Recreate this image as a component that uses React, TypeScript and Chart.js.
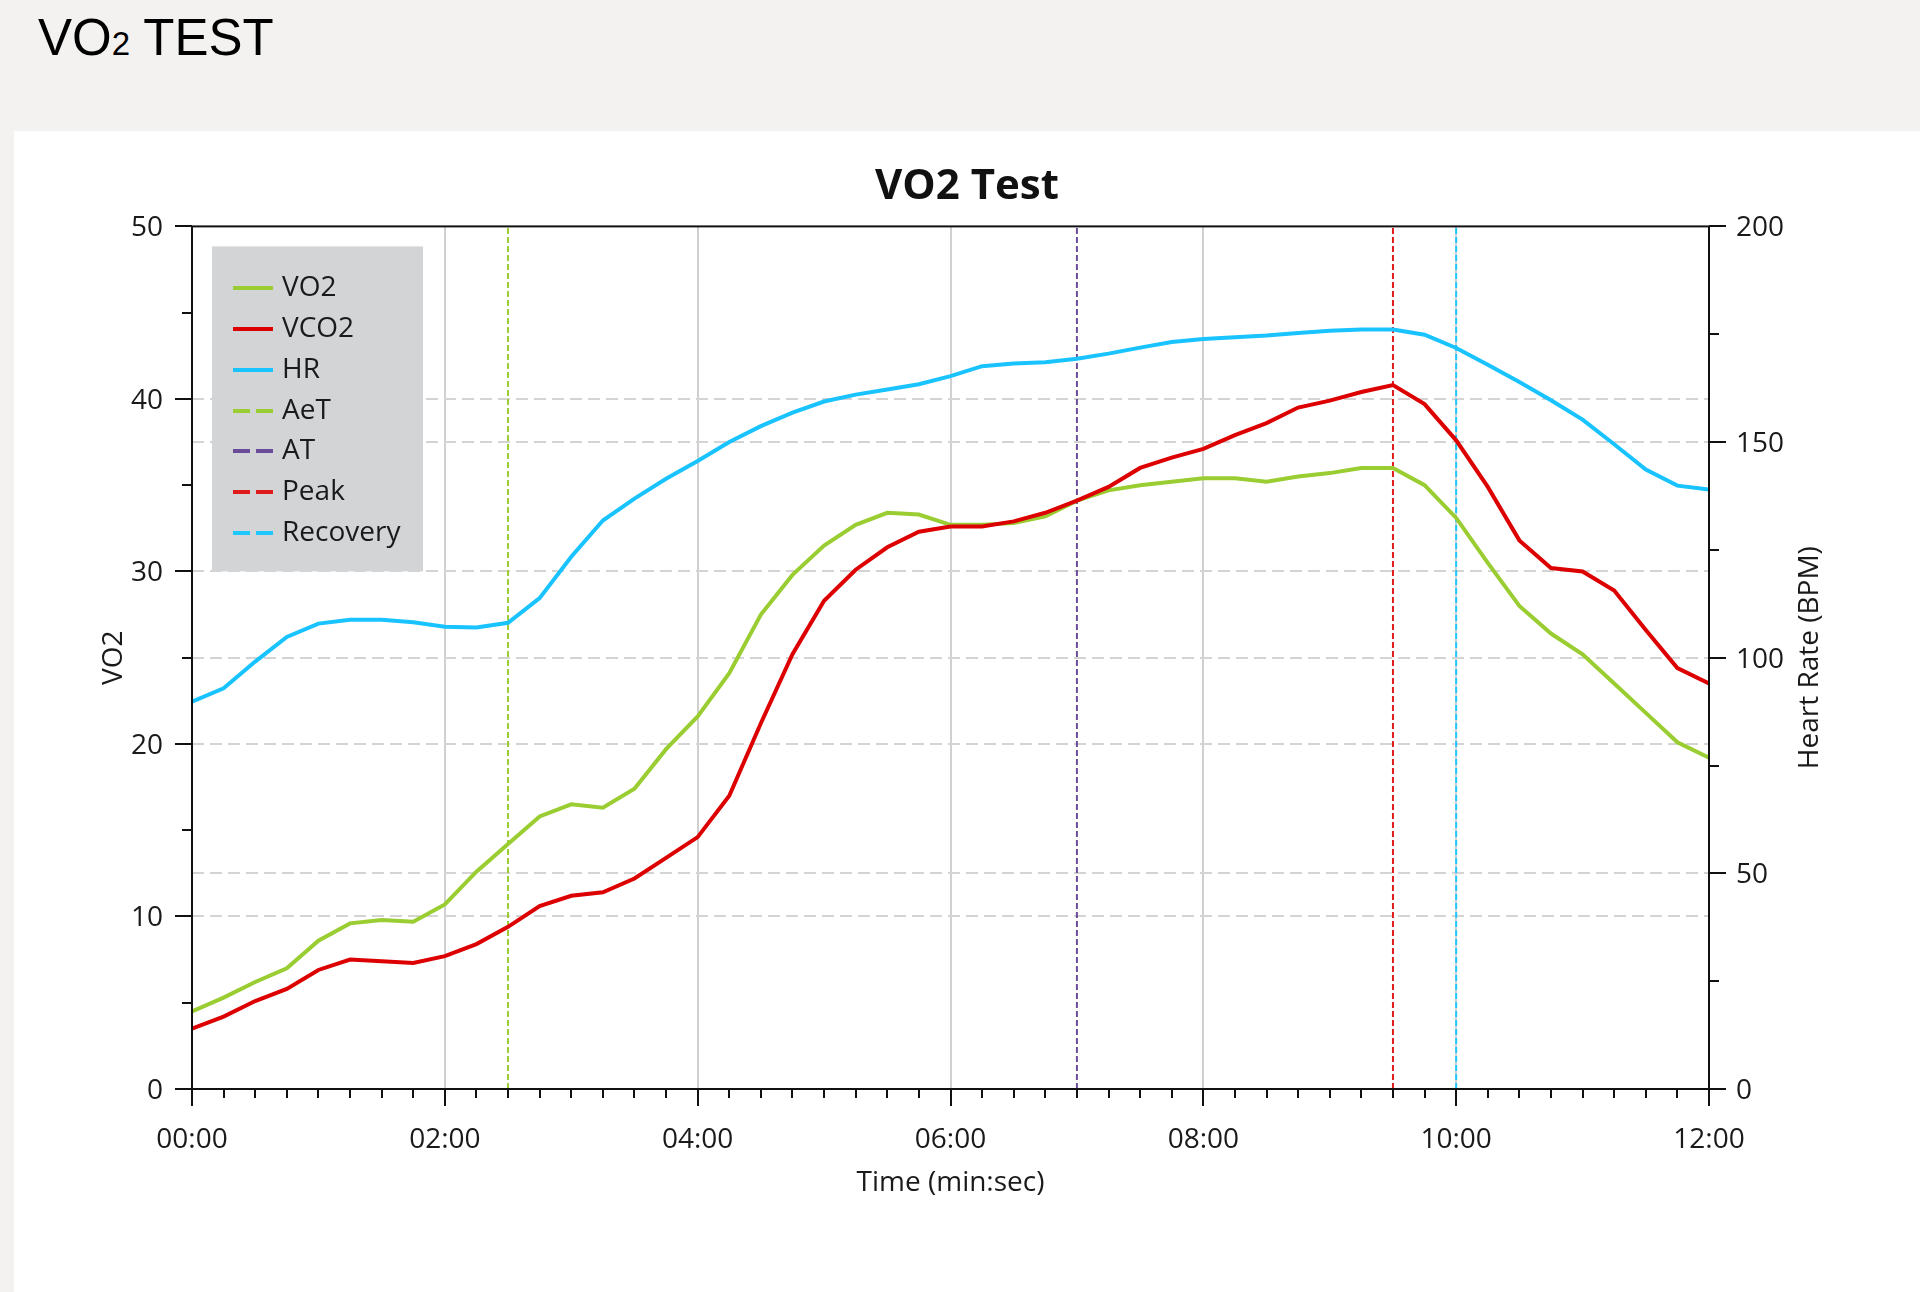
import { useEffect, useRef } from 'react';
import { Chart, registerables } from 'chart.js';

Chart.register(...registerables);

// time in seconds (one sample every 15 s)
const seconds = [
  0, 15, 30, 45, 60, 75, 90, 105, 120, 135, 150, 165, 180, 195, 210, 225, 240,
  255, 270, 285, 300, 315, 330, 345, 360, 375, 390, 405, 420, 435, 450, 465, 480,
  495, 510, 525, 540, 555, 570, 585, 600, 615, 630, 645, 660, 675, 690, 705, 720,
];

const vo2 = [
  4.5, 5.3, 6.2, 7.0, 8.6, 9.6, 9.8, 9.7, 10.7, 12.6, 14.2, 15.8, 16.5, 16.3, 17.4, 19.7, 21.6,
  24.1, 27.5, 29.8, 31.5, 32.7, 33.4, 33.3, 32.7, 32.7, 32.8, 33.2, 34.1, 34.7, 35.0, 35.2, 35.4,
  35.4, 35.2, 35.5, 35.7, 36.0, 36.0, 35.0, 33.1, 30.5, 28.0, 26.4, 25.2, 23.5, 21.8, 20.1, 19.2,
];

const vco2 = [
  3.5, 4.2, 5.1, 5.8, 6.9, 7.5, 7.4, 7.3, 7.7, 8.4, 9.4, 10.6, 11.2, 11.4, 12.2, 13.4, 14.6,
  17.0, 21.2, 25.2, 28.3, 30.1, 31.4, 32.3, 32.6, 32.6, 32.9, 33.4, 34.1, 34.9, 36.0, 36.6, 37.1,
  37.9, 38.6, 39.5, 39.9, 40.4, 40.8, 39.7, 37.6, 34.9, 31.8, 30.2, 30.0, 28.9, 26.6, 24.4, 23.5,
];

const heartRate = [
  89.8, 92.9, 99.1, 104.8, 107.9, 108.8, 108.8, 108.2, 107.2, 107.0, 108.1, 113.8, 123.4, 131.8, 136.9, 141.5, 145.6,
  150.0, 153.7, 156.8, 159.4, 161.0, 162.2, 163.4, 165.3, 167.6, 168.2, 168.5, 169.3, 170.5, 171.9, 173.2, 173.9,
  174.3, 174.7, 175.3, 175.8, 176.1, 176.1, 174.9, 171.8, 167.9, 163.9, 159.7, 155.2, 149.5, 143.6, 139.9, 139.0,
];

// threshold markers (seconds)
const markerNames = ['AeT', 'AT', 'Peak', 'Recovery'];
const markerSeconds = [150, 420, 570, 600];
const markerColors = ['#9ACD32', '#6B4C9A', '#E01B1B', '#1EC8FF'];

const FONT = '"Open Sans", sans-serif';
const TEXT = '#1a1a1a';

const fmtTime = (v: number) =>
  `${String(Math.floor(v / 60)).padStart(2, '0')}:${String(v % 60).padStart(2, '0')}`;

const decor = {
  id: 'decor',
  afterDraw(chart: any) {
    const { ctx, chartArea: a, scales } = chart;
    const { x, y, y1 } = scales;
    ctx.save();
    ctx.strokeStyle = '#111';
    ctx.lineWidth = 2;
    ctx.setLineDash([]);
    ctx.strokeRect(a.left, a.top, a.right - a.left, a.bottom - a.top);

    const seg = (x1: number, y1p: number, x2: number, y2: number) => {
      ctx.beginPath();
      ctx.moveTo(x1, y1p);
      ctx.lineTo(x2, y2);
      ctx.stroke();
    };
    // x ticks
    for (let v = x.min; v <= x.max; v += 15) {
      const px = Math.round(x.getPixelForValue(v));
      seg(px, a.bottom, px, a.bottom + (v % 120 === 0 ? 17 : 9));
    }
    // left ticks
    for (let v = y.min; v <= y.max; v += 5) {
      const py = Math.round(y.getPixelForValue(v));
      seg(a.left, py, a.left - (v % 10 === 0 ? 17 : 10), py);
    }
    // right ticks
    for (let v = y1.min; v <= y1.max; v += 25) {
      const py = Math.round(y1.getPixelForValue(v));
      seg(a.right, py, a.right + (v % 50 === 0 ? 17 : 10), py);
    }

    // axis titles
    ctx.fillStyle = TEXT;
    ctx.font = `28px ${FONT}`;
    ctx.textAlign = 'center';
    ctx.textBaseline = 'middle';
    const midY = (a.top + a.bottom) / 2;
    ctx.save();
    ctx.translate(y.right - 78, midY);
    ctx.rotate(-Math.PI / 2);
    ctx.fillText('VO2', 0, 0);
    ctx.restore();
    ctx.save();
    ctx.translate(y1.left + 101, midY);
    ctx.rotate(-Math.PI / 2);
    ctx.fillText('Heart Rate (BPM)', 0, 0);
    ctx.restore();
    ctx.fillText('Time (min:sec)', (a.left + a.right) / 2, x.top + 94);

    // legend
    const bx = a.left + 20;
    const by = a.top + 20;
    ctx.fillStyle = '#d3d4d6';
    ctx.fillRect(bx, by, 211, 325);
    ctx.textAlign = 'left';
    chart.data.datasets.forEach((ds: any, i: number) => {
      const cy = Math.round(by + 42 + i * 40.7);
      ctx.strokeStyle = ds.borderColor;
      ctx.lineWidth = 4;
      ctx.setLineDash(ds.borderDash ? [17, 6] : []);
      seg(bx + 21, cy, bx + 61, cy);
      ctx.setLineDash([]);
      ctx.fillStyle = TEXT;
      ctx.fillText(ds.label, bx + 70, cy);
    });
    ctx.restore();
  },
};

const App = () => {
  const canvasRef = useRef<HTMLCanvasElement | null>(null);
  const chartRef = useRef<Chart | null>(null);

  useEffect(() => {
    document.body.style.margin = '0';
    if (!canvasRef.current) return;
    if (chartRef.current) chartRef.current.destroy();

    const series = (vals: number[]) => seconds.map((s, i) => ({ x: s, y: vals[i] }));

    const markers = markerNames.map((name, i) => ({
      label: name,
      data: [
        { x: markerSeconds[i], y: 0 },
        { x: markerSeconds[i], y: 50 },
      ],
      borderColor: markerColors[i],
      borderDash: [6, 3],
      borderWidth: 2,
      yAxisID: 'y',
      order: 3,
    }));

    chartRef.current = new Chart(canvasRef.current, {
      type: 'line',
      data: {
        datasets: [
          { label: 'VO2', data: series(vo2), borderColor: '#9ACD32', borderWidth: 4, yAxisID: 'y', order: 2 },
          { label: 'VCO2', data: series(vco2), borderColor: '#DD0000', borderWidth: 4, yAxisID: 'y', order: 1 },
          { label: 'HR', data: series(heartRate), borderColor: '#19C3FF', borderWidth: 4, yAxisID: 'y1', order: 2 },
          ...markers,
        ] as any,
      },
      options: {
        animation: false,
        responsive: true,
        maintainAspectRatio: false,
        devicePixelRatio: 1,
        elements: { point: { radius: 0 }, line: { tension: 0 } },
        layout: { padding: 0 },
        plugins: {
          legend: { display: false },
          tooltip: { enabled: false },
          title: {
            display: true,
            text: 'VO2 Test',
            color: '#111',
            font: { family: FONT, size: 42, weight: 'bold' },
            padding: { top: 31, bottom: 14 },
          },
        },
        scales: {
          x: {
            type: 'linear',
            min: 0,
            max: 720,
            afterFit: (s: any) => { s.height = 203; },
            ticks: {
              stepSize: 120,
              padding: 34,
              maxRotation: 0,
              color: TEXT,
              font: { family: FONT, size: 28 },
              callback: (v: any) => fmtTime(Number(v)),
            },
            grid: {
              drawTicks: false,
              lineWidth: 2,
              color: (c: any) =>
                c.tick && (c.tick.value === 0 || c.tick.value === 720) ? 'rgba(0,0,0,0)' : '#d0d0d0',
            },
            border: { display: false },
          },
          y: {
            position: 'left',
            min: 0,
            max: 50,
            afterFit: (s: any) => { s.width = 178; },
            ticks: { stepSize: 10, padding: 29, labelOffset: 2, color: TEXT, font: { family: FONT, size: 28 } },
            grid: {
              drawTicks: false,
              lineWidth: 2,
              color: (c: any) =>
                c.tick && (c.tick.value === 0 || c.tick.value === 50) ? 'rgba(0,0,0,0)' : '#d4d4d4',
            },
            border: { display: false, dash: [12, 6] },
          },
          y1: {
            position: 'right',
            min: 0,
            max: 200,
            afterFit: (s: any) => { s.width = 211; },
            ticks: { stepSize: 50, padding: 27, labelOffset: 2, color: TEXT, font: { family: FONT, size: 28 } },
            grid: {
              drawTicks: false,
              lineWidth: 2,
              color: (c: any) =>
                c.tick && (c.tick.value === 0 || c.tick.value === 200) ? 'rgba(0,0,0,0)' : '#d4d4d4',
            },
            border: { display: false, dash: [12, 6] },
          },
        },
      },
      plugins: [decor],
    } as any);

    return () => {
      if (chartRef.current) {
        chartRef.current.destroy();
        chartRef.current = null;
      }
    };
  }, []);

  return (
    <div
      style={{
        position: 'absolute',
        left: 0,
        top: 0,
        width: 1920,
        height: 1292,
        background: '#f3f2f0',
        overflow: 'hidden',
      }}
    >
      <div
        style={{
          position: 'absolute',
          left: 38,
          top: 12,
          fontFamily: '"Liberation Sans", Arial, sans-serif',
          fontSize: 51,
          lineHeight: '51px',
          color: '#000',
          whiteSpace: 'nowrap',
        }}
      >
        VO<span style={{ fontSize: 33 }}>2</span> TEST
      </div>
      <div
        style={{
          position: 'absolute',
          left: 14,
          top: 131,
          width: 1906,
          height: 1161,
          background: '#fff',
        }}
      >
        <canvas ref={canvasRef}></canvas>
      </div>
    </div>
  );
};

export default App;
